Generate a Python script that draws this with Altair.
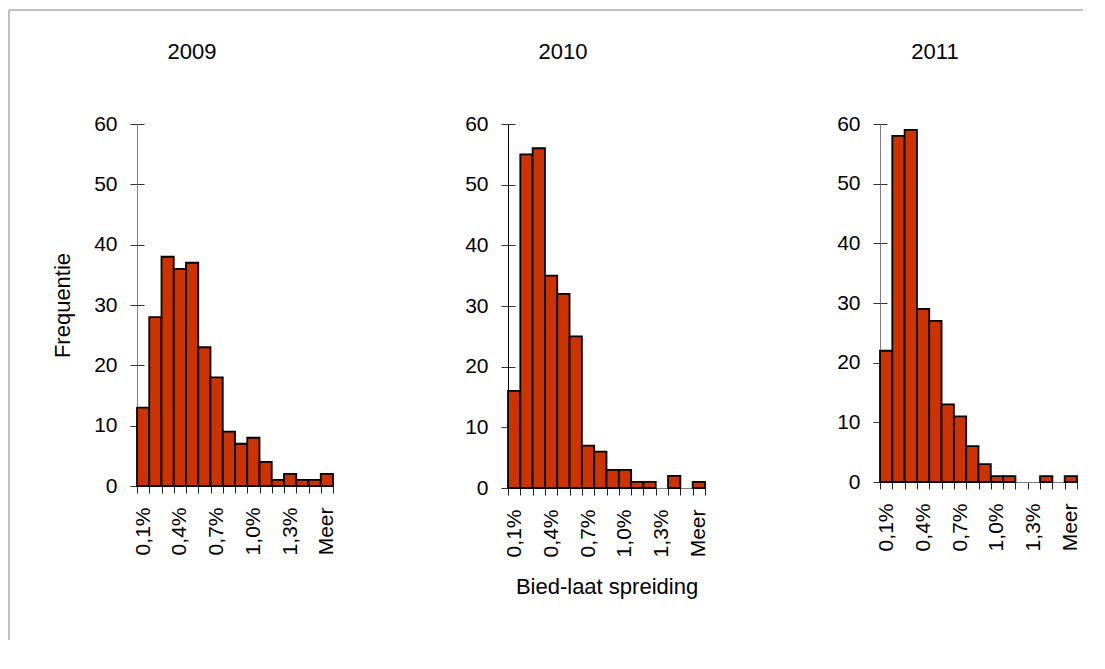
import json
import altair as alt
import pandas as pd

bins = ['0,1%', '0,2%', '0,3%', '0,4%', '0,5%', '0,6%', '0,7%', '0,8%',
        '0,9%', '1,0%', '1,1%', '1,2%', '1,3%', '1,4%', '1,5%', 'Meer']
shown_labels = ['0,1%', '0,4%', '0,7%', '1,0%', '1,3%', 'Meer']
years = ['2009', '2010', '2011']
freq_2009 = [13, 28, 38, 36, 37, 23, 18, 9, 7, 8, 4, 1, 2, 1, 1, 2]
freq_2010 = [16, 55, 56, 35, 32, 25, 7, 6, 3, 3, 1, 1, 0, 2, 0, 1]
freq_2011 = [22, 58, 59, 29, 27, 13, 11, 6, 3, 1, 1, 0, 0, 1, 0, 1]
y_ticks = [0, 10, 20, 30, 40, 50, 60]
y_title = 'Frequentie'
x_title = 'Bied-laat spreiding'

FONT = 'Liberation Sans'
BAR = '#CC3300'
label_expr = "indexof(" + json.dumps(shown_labels) + ", datum.value) >= 0 ? datum.value : ''"


def panel(year, freq, width, height, show_ytitle, show_xtitle, ydomain_color, frame=False):
    df = pd.DataFrame({'bin': bins, 'n': freq})
    xaxis_kw = dict(labelAngle=-90, tickBand='extent', tickSize=7, tickColor='#222222',
                    domainColor='#808080', domainWidth=1, labelPadding=14,
                    labelFont=FONT, labelFontSize=21, labelColor='black',
                    labelExpr=label_expr, labelOverlap=False, grid=False)
    if show_xtitle:
        xaxis_kw.update(title=x_title, titleFont=FONT, titleFontSize=22,
                        titleFontWeight='normal', titleColor='black', titlePadding=20)
    else:
        xaxis_kw.update(title='')
    yaxis_kw = dict(orient='left', values=y_ticks, tickSize=7, tickColor='#333333',
                    domainColor=ydomain_color, domainWidth=1, labelPadding=13,
                    labelFont=FONT, labelFontSize=21, labelColor='black', grid=False)
    if show_ytitle:
        yaxis_kw.update(title=y_title, titleFont=FONT, titleFontSize=22,
                        titleFontWeight='normal', titleColor='black', titlePadding=19)
    else:
        yaxis_kw.update(title='')

    xenc = alt.X('bin:N', sort=bins,
                 scale=alt.Scale(domain=bins, paddingInner=0, paddingOuter=0),
                 axis=alt.Axis(**xaxis_kw))
    yscale = alt.Scale(domain=[0, 60], nice=False)

    bars = alt.Chart(df).transform_filter('datum.n > 0').mark_bar(
        fill=BAR, stroke='black', strokeWidth=1.8
    ).encode(
        x=xenc,
        y=alt.Y('n:Q', scale=yscale, axis=alt.Axis(**yaxis_kw)),
    )
    inner_ticks = alt.Chart(df).transform_filter('datum.n > 0').mark_bar(opacity=0).encode(
        x=xenc,
        y=alt.Y('n:Q', scale=yscale,
                axis=alt.Axis(orient='left', values=y_ticks, offset=-7, tickSize=7,
                              tickColor='#333333', domain=False, labels=False,
                              title='', grid=False)),
    )
    head = alt.Chart(pd.DataFrame({'year': [year]})).mark_text(
        align='center', baseline='alphabetic', font=FONT, fontSize=22, color='black'
    ).encode(text='year:N', x=alt.value(55), y=alt.value(-65))
    layers = [bars, inner_ticks, head]
    if frame:
        one = pd.DataFrame({'frame': [1]})
        fv = alt.Chart(one).mark_rule(color='#c0c0c0', strokeWidth=2).encode(
            x=alt.value(-128), y=alt.value(-114), y2=alt.value(516))
        fh = alt.Chart(one).mark_rule(color='#c0c0c0', strokeWidth=2).encode(
            x=alt.value(-128), x2=alt.value(946), y=alt.value(-114))
        layers += [fv, fh]
    ch = alt.layer(*layers).resolve_axis(y='independent').properties(
        width=width, height=height,
    )
    return ch


p1 = panel(years[0], freq_2009, 196, 362, True, False, '#808080', frame=True)
p2 = panel(years[1], freq_2010, 197, 364, False, True, '#000000')
p3 = panel(years[2], freq_2011, 197, 358, False, False, '#808080')

chart = alt.hconcat(p1, p2, p3, spacing=175).properties(
    bounds='flush',
    background='white',
    padding={'left': 0, 'top': 1, 'right': 6, 'bottom': 8},
).configure_view(stroke=None)

chart.save('out.html', embed_options={'renderer': 'svg', 'actions': False})
